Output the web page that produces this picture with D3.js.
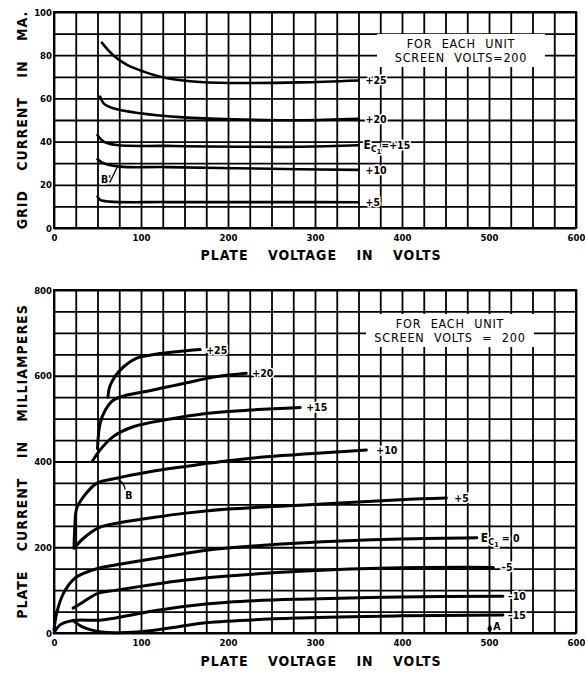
<!DOCTYPE html>
<meta charset="utf-8">
<style>
html{ background:#fff; }
body{ margin:0; }
text{ font-family:"DejaVu Sans Condensed","Liberation Sans Narrow","DejaVu Sans",sans-serif; fill:#000; }
.tick text{ font-size:9.5px; font-weight:bold; }
.title{ font-size:14px; font-weight:bold; letter-spacing:1px; word-spacing:14px; }
.lbl{ font-size:10.5px; font-weight:bold; paint-order:stroke; stroke:#fff; stroke-width:3px; }
.note{ font-size:12.5px; letter-spacing:0.8px; word-spacing:5px; }
</style>
<body>
<script src="https://cdn.jsdelivr.net/npm/d3@7"></script>
<script>

var width = 585,
    height = 673;

// axis ticks
var voltTicks = [0, 100, 200, 300, 400, 500, 600];
var gridTicks = [0, 20, 40, 60, 80, 100];
var plateTicks = [0, 200, 400, 600, 800];

// grid current (mA) vs plate volts, per control grid bias
var gP25 = [[55,85.8],[68,80],[84,75.5],[103,72.4],[130,69.3],[168,67.6],[225,67.1],[283,67.4],[350,68.3]];
var gP20 = [[53,60.8],[57,57.7],[68,55.4],[99,53.1],[149,51.2],[206,50.3],[283,49.9],[350,50.6]];
var gP15 = [[50,43],[57,40],[72,38.4],[130,38],[283,37.6],[350,38.3]];
var gP10 = [[50,31.8],[57,30],[76,28.4],[130,28.2],[283,27.2],[350,26.9]];
var gP5  = [[50,14.5],[53,13],[64,12.2],[130,12],[283,12],[350,11.9]];

// plate current (mA) vs plate volts, per control grid bias
var pP25 = [[62,550],[64,574],[70,598],[80,621],[95,641],[110,648],[141,656],[168,661]];
var pP20 = [[50,430],[53,489],[59,520],[68,543],[84,555],[110,565],[149,582],[187,598],[221,606]];
var pP15 = [[44,400],[53,427],[68,458],[91,481],[130,498],[175,512],[225,520],[283,526]];
var pP10 = [[23,198],[24,250],[26,290],[34,318],[49,349],[72,361],[110,376],[149,388],[200,402],[244,411],[359,427]];
var pP5  = [[23,198],[34,221],[51,245],[72,256],[110,268],[149,279],[200,289],[283,298],[398,311],[451,315]];
var p0   = [[0,7],[3,46],[11,93],[24,128],[34,139],[51,151],[72,159],[110,172],[149,185],[175,193],[210,200],[283,210],[398,219],[486,222]];
var pM5  = [[22,58],[34,73],[51,93],[72,100],[110,112],[149,123],[200,133],[283,144],[398,152],[505,153]];
var pM10 = [[0,0],[7,19],[22,29],[53,30],[84,40],[110,50],[149,62],[200,72],[283,79],[398,84],[516,86]];
var pM15 = [[22,29],[34,13],[53,3],[84,1],[110,5],[137,13],[175,24],[283,35],[398,40],[516,42]];

var svg = d3.select("body").append("svg")
    .attr("width", width)
    .attr("height", height);

var x = d3.scaleLinear().domain([0, 600]).range([54, 576]);
var yTop = d3.scaleLinear().domain([0, 100]).range([228, 12]);
var yBot = d3.scaleLinear().domain([0, 800]).range([633, 290]);

var line = function(y){
  return d3.line()
    .x(function(d){ return x(d[0]); })
    .y(function(d){ return y(d[1]); })
    .curve(d3.curveCatmullRom.alpha(0.5));
};

function panel(y, yTicks, yStep, yTitle, titleY){
  var g = svg.append("g");
  var y0 = y.range()[0], y1 = y.range()[1];

  // vertical grid
  g.append("g")
    .attr("transform", "translate(0," + y0 + ")")
    .call(d3.axisBottom(x).tickValues(d3.range(0, 601, 25)).tickSize(-(y0 - y1)).tickFormat(""))
    .call(function(a){ a.select(".domain").remove(); a.selectAll("line").attr("stroke", "#000").attr("stroke-width", 1.8); });

  // horizontal grid
  g.append("g")
    .attr("transform", "translate(" + x(0) + ",0)")
    .call(d3.axisLeft(y).tickValues(d3.range(0, y.domain()[1] + 1, yStep)).tickSize(-(x(600) - x(0))).tickFormat(""))
    .call(function(a){ a.select(".domain").remove(); a.selectAll("line").attr("stroke", "#000").attr("stroke-width", 1.8); });

  g.append("rect")
    .attr("x", x(0)).attr("y", y1)
    .attr("width", x(600) - x(0)).attr("height", y0 - y1)
    .attr("fill", "none").attr("stroke", "#000").attr("stroke-width", 2);

  // tick labels
  g.append("g")
    .attr("transform", "translate(0," + y0 + ")")
    .call(d3.axisBottom(x).tickValues(voltTicks).tickSize(0).tickPadding(6))
    .call(function(a){ a.select(".domain").remove(); });

  g.append("g")
    .attr("transform", "translate(" + x(0) + ",0)")
    .call(d3.axisLeft(y).tickValues(yTicks).tickSize(0).tickPadding(2))
    .call(function(a){ a.select(".domain").remove(); });

  g.append("text").attr("class", "title")
    .attr("x", 321).attr("y", titleY)
    .attr("text-anchor", "middle")
    .text("PLATE VOLTAGE IN VOLTS");

  g.append("text").attr("class", "title")
    .attr("transform", "translate(27," + (y0 + y1) / 2 + ") rotate(-90)")
    .attr("text-anchor", "middle")
    .text(yTitle);

  return g;
}

function curves(g, y, series, width){
  g.selectAll(null)
    .data(series)
    .enter().append("path")
    .attr("d", function(d){ return line(y)(d.pts); })
    .attr("fill", "none")
    .attr("stroke", "#000")
    .attr("stroke-width", width)
    .attr("stroke-linecap", "round");

  series.forEach(function(s){
    var last = s.pts[s.pts.length - 1];
    var t = g.append("text").attr("class", "lbl")
      .attr("x", x(last[0]) + s.dx)
      .attr("y", y(last[1]) + 4);
    if (s.ec){
      t.append("tspan").attr("font-size", "12px").text("E");
      t.append("tspan").attr("font-size", "9px").attr("dy", 3).text("C");
      t.append("tspan").attr("font-size", "7px").attr("dy", 2).text("1");
      t.append("tspan").attr("dy", -5).text(s.label);
    } else {
      t.text(s.label);
    }
  });
}

function note(g, cx, cy, lines){
  g.append("rect")
    .attr("x", cx - 84).attr("y", cy - 17)
    .attr("width", 168).attr("height", 33)
    .attr("fill", "#fff");
  g.append("text").attr("class", "note")
    .attr("x", cx).attr("y", cy - 3).attr("text-anchor", "middle")
    .text(lines[0]);
  g.append("text").attr("class", "note")
    .attr("x", cx).attr("y", cy + 11).attr("text-anchor", "middle")
    .text(lines[1]);
}

// top: grid current
var gridPanel = panel(yTop, gridTicks, 10, "GRID CURRENT IN MA.", 260);
note(gridPanel, 461, 51, ["FOR EACH UNIT", "SCREEN VOLTS=200"]);
curves(gridPanel, yTop, [
  {pts: gP25, label: "+25", dx: 7},
  {pts: gP20, label: "+20", dx: 7},
  {pts: gP15, label: "=+15", dx: 5, ec: true},
  {pts: gP10, label: "+10", dx: 7},
  {pts: gP5,  label: "+5",  dx: 7}
], 2.6);

gridPanel.append("text").attr("class", "lbl").attr("x", x(54)).attr("y", yTop(21)).text("B'");
gridPanel.append("line")
  .attr("x1", x(64)).attr("y1", yTop(21))
  .attr("x2", x(73)).attr("y2", yTop(28.5))
  .attr("stroke", "#000").attr("stroke-width", 1.3);

// bottom: plate current
var platePanel = panel(yBot, plateTicks, 50, "PLATE CURRENT IN MILLIAMPERES", 666);
note(platePanel, 450, 331, ["FOR EACH UNIT", "SCREEN VOLTS = 200"]);
curves(platePanel, yBot, [
  {pts: pP25, label: "+25", dx: 6},
  {pts: pP20, label: "+20", dx: 6},
  {pts: pP15, label: "+15", dx: 6},
  {pts: pP10, label: "+10", dx: 10},
  {pts: pP5,  label: "+5",  dx: 8},
  {pts: p0,   label: " = 0", dx: 4, ec: true},
  {pts: pM5,  label: "–5",  dx: 8},
  {pts: pM10, label: "–10", dx: 5},
  {pts: pM15, label: "–15", dx: 5}
], 3);

platePanel.append("path")
  .attr("d", "M" + x(74) + "," + yBot(357) + "Q" + x(80) + "," + yBot(352) + " " + x(82) + "," + yBot(334))
  .attr("fill", "none").attr("stroke", "#000").attr("stroke-width", 1.3);
platePanel.append("text").attr("class", "lbl").attr("x", x(82)).attr("y", yBot(312)).text("B");

platePanel.append("path")
  .attr("transform", "translate(" + x(501) + "," + yBot(10) + ")")
  .attr("d", d3.symbol(d3.symbolDiamond, 22)());
platePanel.append("text").attr("class", "lbl").attr("x", x(505)).attr("y", yBot(10) + 1).text("A");

</script>
</body>
